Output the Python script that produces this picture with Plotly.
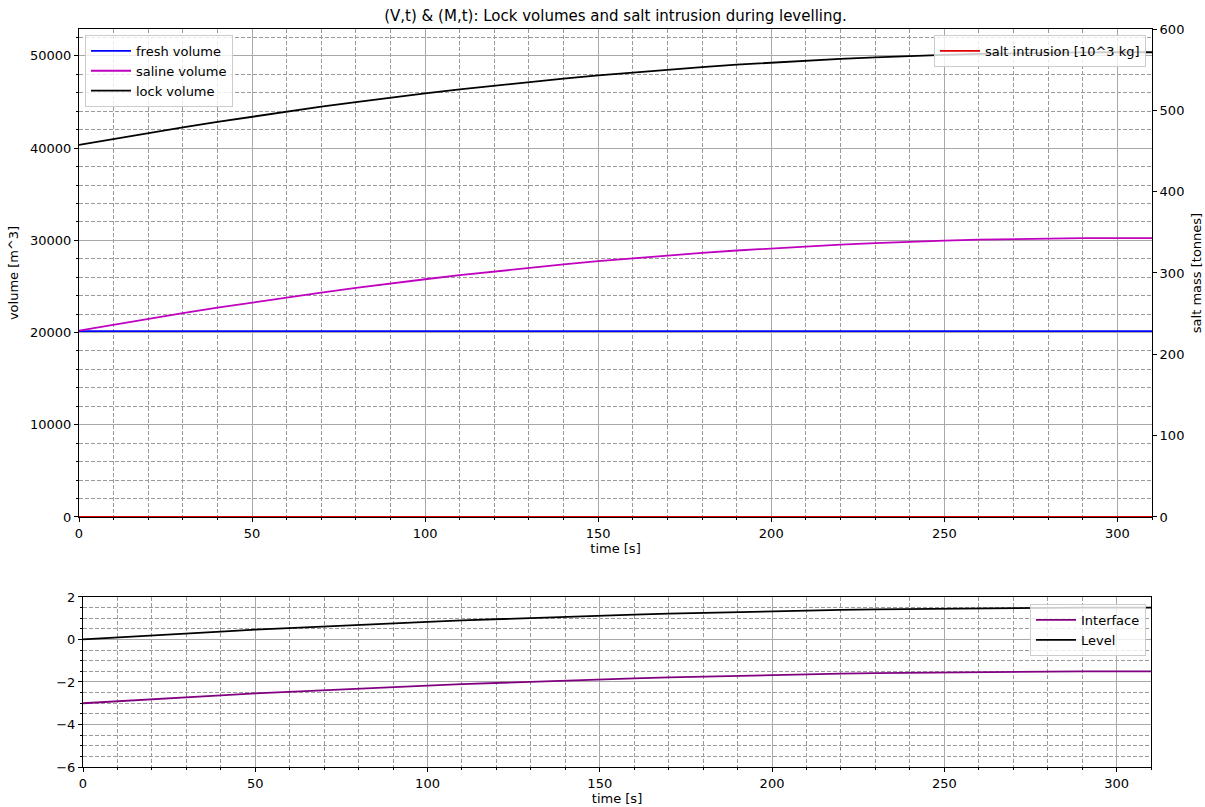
import plotly.graph_objects as go

# time axis [s]
time_s = [0, 10, 20, 30, 40, 50, 60, 70, 80, 90, 100, 110, 120, 130, 140, 150,
          160, 170, 180, 190, 200, 210, 220, 230, 240, 250, 260, 270, 280, 290, 300, 310]

# volumes [m^3]
fresh_volume = [20150] * 32
saline_volume = [20200, 20860, 21490, 22110, 22700, 23270, 23820, 24340, 24840, 25330,
                 25780, 26220, 26630, 27020, 27390, 27740, 28060, 28360, 28640, 28900,
                 29130, 29350, 29530, 29700, 29850, 29970, 30070, 30150, 30200, 30240,
                 30250, 30250]
lock_volume = [40350, 41010, 41640, 42260, 42850, 43420, 43970, 44490, 44990, 45480,
               45930, 46370, 46780, 47170, 47540, 47890, 48210, 48510, 48790, 49050,
               49280, 49500, 49680, 49850, 50000, 50120, 50220, 50300, 50350, 50390,
               50400, 50400]

# salt intrusion [10^3 kg]
salt_intrusion = [0, 0, 0, 0, 0, 0, 0, 0, 0, 0, 0, 0, 0, 0, 0, 0,
                  0, 0, 0, 0, 0, 0, 0, 0, 0, 0, 0, 0, 0, 0, 0, 0]

# water level and interface [m]
level = [0.0, 0.10, 0.19, 0.29, 0.37, 0.46, 0.54, 0.62, 0.69, 0.77, 0.83, 0.90, 0.96,
         1.02, 1.07, 1.13, 1.17, 1.22, 1.26, 1.30, 1.33, 1.37, 1.39, 1.42, 1.44, 1.46,
         1.47, 1.49, 1.49, 1.50, 1.50, 1.50]
interface = [-3.0, -2.90, -2.81, -2.71, -2.63, -2.54, -2.46, -2.38, -2.31, -2.23, -2.17,
             -2.10, -2.04, -1.98, -1.93, -1.87, -1.83, -1.78, -1.74, -1.70, -1.67, -1.63,
             -1.61, -1.58, -1.56, -1.54, -1.53, -1.51, -1.51, -1.50, -1.50, -1.50]

FONT = "DejaVu Sans"
MAJOR = "#a8a8a8"
MINOR = "#9a9a9a"
LW = 1.8

fig = go.Figure()

fig.add_trace(go.Scatter(x=time_s, y=fresh_volume, name="fresh volume", mode="lines",
                         line=dict(color="#0000ff", width=LW), xaxis="x", yaxis="y",
                         legend="legend"))
fig.add_trace(go.Scatter(x=time_s, y=saline_volume, name="saline volume", mode="lines",
                         line=dict(color="#bf00bf", width=LW), xaxis="x", yaxis="y",
                         legend="legend"))
fig.add_trace(go.Scatter(x=time_s, y=lock_volume, name="lock volume", mode="lines",
                         line=dict(color="#000000", width=LW), xaxis="x", yaxis="y",
                         legend="legend"))
fig.add_trace(go.Scatter(x=time_s, y=salt_intrusion, name="salt intrusion [10^3 kg]",
                         mode="lines", line=dict(color="#e00000", width=LW),
                         xaxis="x", yaxis="y2", legend="legend2"))
fig.add_trace(go.Scatter(x=time_s, y=interface, name="Interface", mode="lines",
                         line=dict(color="#800080", width=LW), xaxis="x2", yaxis="y3",
                         legend="legend3"))
fig.add_trace(go.Scatter(x=time_s, y=level, name="Level", mode="lines",
                         line=dict(color="#000000", width=LW), xaxis="x2", yaxis="y3",
                         legend="legend3"))

tickfont = dict(family=FONT, size=13, color="#000")
titlefont = dict(family=FONT, size=13, color="#000")


def minor(dtick, grid=True):
    return dict(dtick=dtick, ticks="outside", ticklen=2, tickcolor="#000",
                showgrid=grid, gridcolor=MINOR, griddash="4px,2px", gridwidth=0.8)


common_x = dict(range=[0, 310], dtick=50, tick0=0, ticks="outside", ticklen=4,
                tickcolor="#000", showline=True, linecolor="#000", linewidth=1,
                mirror=True, showgrid=True, gridcolor=MAJOR, gridwidth=1,
                zeroline=False, tickfont=tickfont, minor=minor(10), automargin=False,
                tickformat="d")

legend_style = dict(bgcolor="rgba(255,255,255,0.8)", bordercolor="#cccccc",
                    borderwidth=1, font=dict(family=FONT, size=13, color="#000"),
                    tracegroupgap=0, itemwidth=40)

fig.update_layout(
    width=1205, height=807,
    margin=dict(l=79, r=53, t=29, b=40),
    paper_bgcolor="white", plot_bgcolor="white",
    font=dict(family=FONT, size=13, color="#000"),
    title=dict(text="(V,t) & (M,t): Lock volumes and salt intrusion during levelling.",
               x=(79 + 1152) / 2 / 1205, xanchor="center", y=1 - 16 / 807,
               yanchor="middle", font=dict(family=FONT, size=15, color="#000")),
    xaxis=dict(common_x, domain=[0, 1], anchor="y",
               title=dict(text="time [s]", standoff=2, font=titlefont)),
    yaxis=dict(domain=[0.3388, 1], range=[0, 52920], dtick=10000, tick0=0,
               ticks="outside", ticklen=4, tickcolor="#000", showline=True,
               linecolor="#000", linewidth=1, showgrid=True, gridcolor=MAJOR,
               zeroline=False, tickfont=tickfont, anchor="x", minor=minor(2000),
               automargin=False, tickformat="d",
               title=dict(text="volume [m^3]", standoff=8, font=titlefont)),
    yaxis2=dict(overlaying="y", side="right", anchor="x", range=[0, 600], dtick=100,
                ticks="outside", ticklen=4, tickcolor="#000", showline=True,
                linecolor="#000", linewidth=1, showgrid=False, zeroline=False,
                tickfont=tickfont, automargin=False, tickformat="d",
                title=dict(text="salt mass [tonnes]", standoff=8, font=titlefont)),
    xaxis2=dict(common_x, domain=[4 / 1073, 1072 / 1073], anchor="y3",
                title=dict(text="time [s]", standoff=2, font=titlefont)),
    yaxis3=dict(domain=[0, 0.2304], range=[-6, 2], dtick=2, tick0=0, ticks="outside",
                ticklen=4, tickcolor="#000", showline=True, linecolor="#000",
                linewidth=1, mirror=True, showgrid=True, gridcolor=MAJOR,
                zeroline=False, tickfont=tickfont, anchor="x2", minor=minor(0.5),
                automargin=False, tickformat="d"),
    legend=dict(legend_style, x=6 / 1073, y=0.992, xanchor="left", yanchor="top"),
    legend2=dict(legend_style, x=1067 / 1073, y=0.992, xanchor="right", yanchor="top"),
    legend3=dict(legend_style, x=1067 / 1073, y=0.2209, xanchor="right", yanchor="top"),
    showlegend=True,
)

fig.write_html("out.html")
